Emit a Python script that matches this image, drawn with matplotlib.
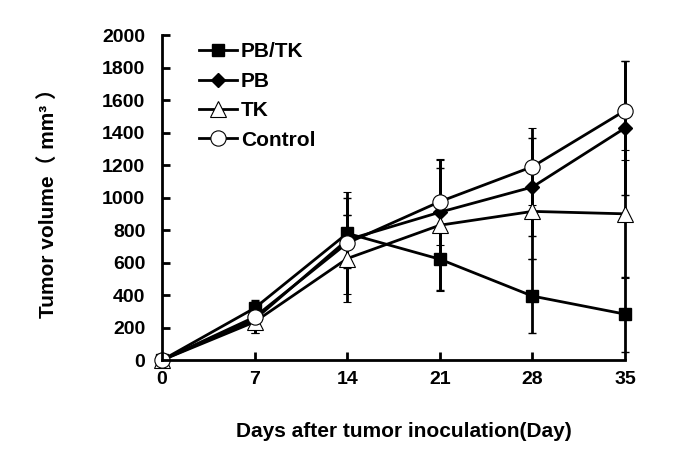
import matplotlib
matplotlib.use("Agg")
import matplotlib.pyplot as plt
from matplotlib.lines import Line2D

days = [0, 7, 14, 21, 28, 35]
pbtk = [0, 320, 780, 621, 394, 283]
pb = [0, 250, 740, 910, 1065, 1428]
tk = [0, 235, 625, 830, 915, 900]
control = [0, 265, 720, 975, 1190, 1535]
pbtk_err = [0, 50, 215, 190, 230, 230]
pb_err = [0, 40, 150, 270, 300, 413]
tk_err = [0, 70, 270, 404, 290, 395]
control_err = [0, 100, 316, 264, 236, 305]
yticks = list(range(0, 2001, 200))
labels = ['PB/TK', 'PB', 'TK', 'Control']

plt.rcParams['font.family'] = ['Liberation Sans', 'Noto Sans CJK SC', 'DejaVu Sans']
plt.rcParams['font.weight'] = 'bold'

fig = plt.figure(figsize=(6.85, 4.53), dpi=100)
ax = fig.add_axes([0.2365, 0.205, 0.6760, 0.7177])

styles = [
    dict(marker='s', ms=9, mfc='black', mec='black', mew=1),
    dict(marker='D', ms=7, mfc='black', mec='black', mew=1),
    dict(marker='^', ms=11, mfc='white', mec='black', mew=0.8),
    dict(marker='o', ms=11, mfc='white', mec='black', mew=0.8),
]
series = [pbtk, pb, tk, control]
errs = [pbtk_err, pb_err, tk_err, control_err]
handles = []
for vals, err, st, lab in zip(series, errs, styles, labels):
    ax.errorbar(days, vals, yerr=err, color='black', lw=2, capsize=3,
                elinewidth=2, capthick=1.5, clip_on=False, **st)
    handles.append(Line2D([], [], color='black', lw=2, **st))

ax.set_xlim(0, 35)
ax.set_ylim(0, 2000)
ax.set_xticks(days)
ax.set_yticks(yticks)
ax.spines['top'].set_visible(False)
ax.spines['right'].set_visible(False)
ax.spines['left'].set_linewidth(2)
ax.spines['bottom'].set_linewidth(2)
ax.tick_params(direction='in', length=6, width=2, labelsize=14)
ax.tick_params(axis='y', pad=12)
ax.tick_params(axis='x', pad=8)
for lab in ax.get_xticklabels() + ax.get_yticklabels():
    lab.set_fontweight('bold')

ax.set_xlabel('Days after tumor inoculation(Day)', fontsize=15, fontweight='bold', labelpad=24)
ax.xaxis.set_label_coords(0.522, -0.19)
ax.set_ylabel('Tumor volume（ mm³ ）', fontsize=15, fontweight='bold', labelpad=32)

leg = ax.legend(handles, labels, loc='upper left', bbox_to_anchor=(0.04, 1.035), frameon=False,
                fontsize=15, handlelength=1.8, handletextpad=0.2, labelspacing=0.5)
for t in leg.get_texts():
    t.set_fontweight('bold')

fig.savefig('out.png', dpi=100)
